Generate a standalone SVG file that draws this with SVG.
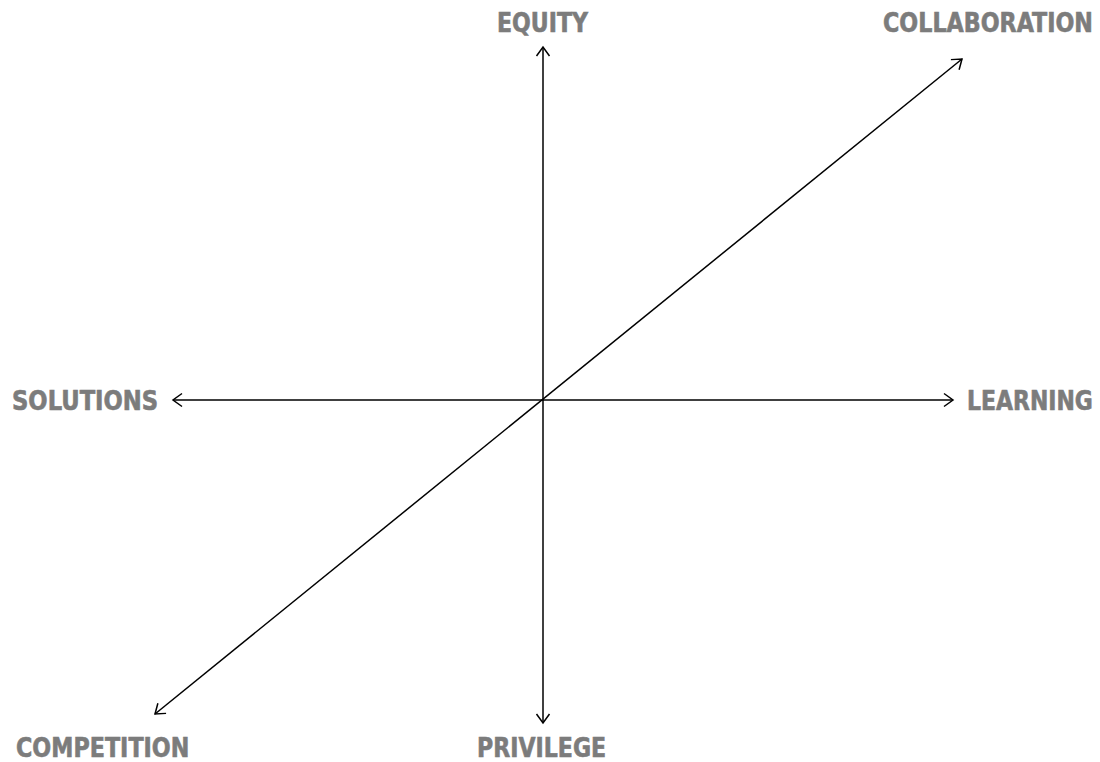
<svg xmlns="http://www.w3.org/2000/svg" width="1100" height="762" viewBox="0 0 1100 762">
<style>
.lbl{font-family:"DejaVu Sans Condensed","Liberation Sans Narrow","Roboto",sans-serif;font-weight:bold;font-size:27px;fill:#7c7c7c;stroke:#7c7c7c;stroke-width:0.6}
.ax{stroke:#000;stroke-width:1.5;fill:none}
</style>
<defs>
<marker id="ah" markerUnits="userSpaceOnUse" markerWidth="20" markerHeight="20" viewBox="-12 -10 14 20" refX="0" refY="0" orient="auto-start-reverse">
<path d="M-9,-6.5 L0,0 L-9,6.5" fill="none" stroke="#000" stroke-width="1.5"/>
</marker>
</defs>
<rect width="1100" height="762" fill="#fff"/>
<g id="connectors">
<line class="ax" x1="543" y1="723" x2="543" y2="47" marker-start="url(#ah)" marker-end="url(#ah)"/>
<line class="ax" x1="173" y1="400" x2="953" y2="400" marker-start="url(#ah)" marker-end="url(#ah)"/>
<line class="ax" x1="155" y1="714" x2="962" y2="59" marker-start="url(#ah)" marker-end="url(#ah)"/>
</g>
<g id="equity" transform="translate(497,32) scale(0.85,1)"><text class="lbl" x="0" y="0" textLength="107" lengthAdjust="spacingAndGlyphs">EQUITY</text></g>
<g id="collaboration" transform="translate(883,32) scale(0.85,1)"><text class="lbl" x="0" y="0" textLength="247" lengthAdjust="spacingAndGlyphs">COLLABORATION</text></g>
<g id="solutions" transform="translate(12,410) scale(0.85,1)"><text class="lbl" x="0" y="0" textLength="172" lengthAdjust="spacingAndGlyphs">SOLUTIONS</text></g>
<g id="learning" transform="translate(967,410) scale(0.85,1)"><text class="lbl" x="0" y="0" textLength="148" lengthAdjust="spacingAndGlyphs">LEARNING</text></g>
<g id="competition" transform="translate(16,757) scale(0.85,1)"><text class="lbl" x="0" y="0" textLength="204" lengthAdjust="spacingAndGlyphs">COMPETITION</text></g>
<g id="privilege" transform="translate(477,757) scale(0.85,1)"><text class="lbl" x="0" y="0" textLength="152" lengthAdjust="spacingAndGlyphs">PRIVILEGE</text></g>
</svg>
